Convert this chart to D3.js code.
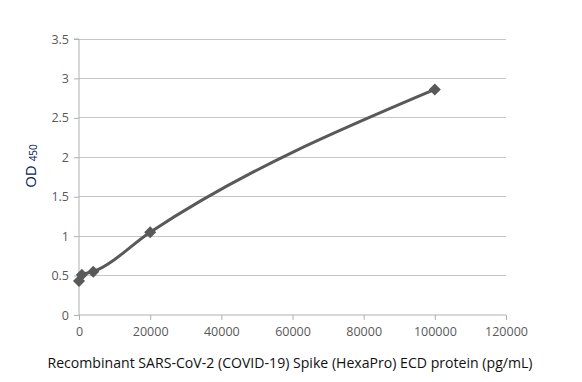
<!DOCTYPE html>
<html><head><meta charset="utf-8">
<script src="https://cdn.jsdelivr.net/npm/d3@7"></script>
<style>body{margin:0;background:#fff}text{font-family:"Open Sans","Liberation Sans",sans-serif}</style>
</head><body>
<svg id="c" width="582" height="382"></svg>
<script>
const concentrations = [0, 800, 4000, 20000, 100000];
const odValues = [0.43, 0.51, 0.55, 1.05, 2.86];
const xTicks = [0, 20000, 40000, 60000, 80000, 100000, 120000];
const yTicks = [0, 0.5, 1, 1.5, 2, 2.5, 3, 3.5];
const xTitle = "Recombinant SARS-CoV-2 (COVID-19) Spike (HexaPro) ECD protein (pg/mL)";

const svg = d3.select("#c");
const m = {l:79, r:506, t:39, b:315};
const x = d3.scaleLinear().domain([0,120000]).range([m.l, m.r]);
const y = d3.scaleLinear().domain([0,3.5]).range([m.b, m.t]);

// gridlines
svg.append("g").selectAll("line").data(yTicks.filter(d=>d>0)).join("line")
  .attr("x1", m.l).attr("x2", m.r).attr("y1", d=>y(d)).attr("y2", d=>y(d))
  .attr("stroke", "#c6c6c6").attr("stroke-width", 1).attr("shape-rendering","crispEdges");

// y axis
const ya = svg.append("g").attr("transform", `translate(${m.l},0)`)
  .call(d3.axisLeft(y).tickValues(yTicks).tickSize(5).tickPadding(5).tickFormat(d3.format("")));
ya.select(".domain").attr("stroke", "#b0b0b0").attr("d", `M-5,${m.t}H0V${m.b}`);
ya.selectAll(".tick line").attr("stroke", "#b0b0b0");
ya.selectAll(".tick text").attr("fill", "#595959").style("font-size", "12.5px");

// x axis
const xa = svg.append("g").attr("transform", `translate(0,${m.b})`)
  .call(d3.axisBottom(x).tickValues(xTicks).tickSize(5).tickPadding(7).tickFormat(d3.format("d")));
xa.select(".domain").attr("stroke", "#b0b0b0").attr("d", `M${m.l},0H${m.r}`);
xa.selectAll(".tick line").attr("stroke", "#b0b0b0");
xa.selectAll(".tick text").attr("fill", "#595959").style("font-size", "12.5px");

// line
const data = concentrations.map((c,i)=>({c, v: odValues[i]}));
svg.append("path").datum(data)
  .attr("fill","none").attr("stroke","#595959").attr("stroke-width",3)
  .attr("d", d3.line().x(d=>x(d.c)).y(d=>y(d.v)).curve(d3.curveMonotoneX));

// markers
svg.append("g").selectAll("path").data(data).join("path")
  .attr("transform", d=>`translate(${x(d.c)},${y(d.v)})`)
  .attr("d", "M0,-6L6,0L0,6L-6,0Z")
  .attr("fill","#595959");

// x title
svg.append("text").attr("x", 290).attr("y", 368).attr("text-anchor","middle")
  .style("font-size","14.1px").attr("fill","#111").text(xTitle);

// y title
const yt = svg.append("text").attr("transform", "translate(36,166) rotate(-90)")
  .attr("text-anchor","middle").attr("fill","#002060").style("font-size","15px");
yt.append("tspan").text("OD ");
yt.append("tspan").style("font-size","10px").attr("dy","1").text("450");
</script>
</body></html>
